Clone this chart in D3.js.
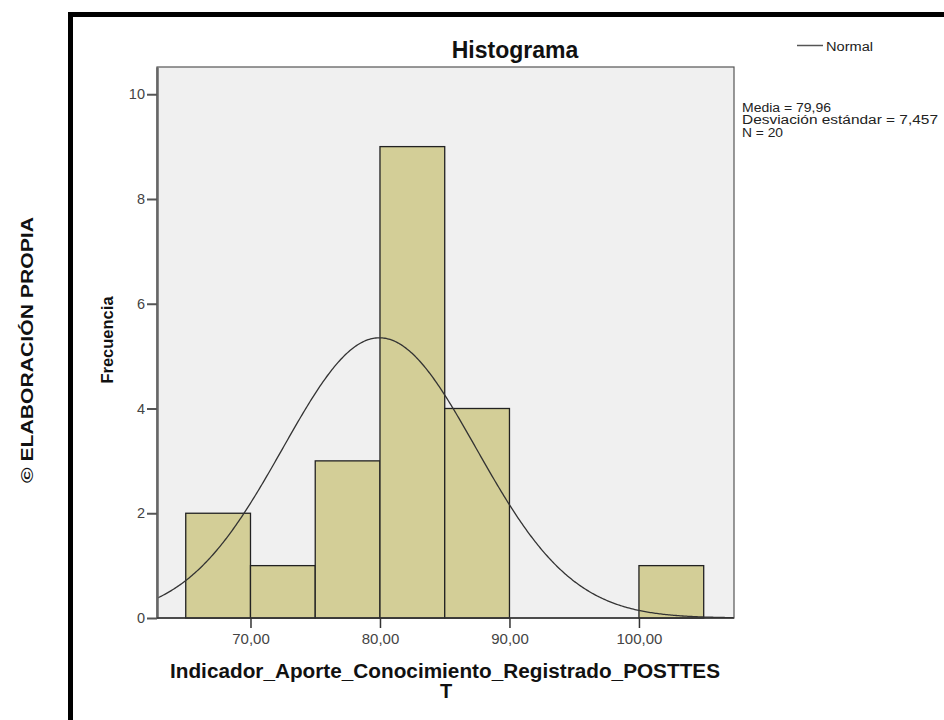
<!DOCTYPE html>
<html><head><meta charset="utf-8">
<script src="https://cdn.jsdelivr.net/npm/d3@7"></script>
<style>body{margin:0;background:#fff;}svg{display:block;}</style>
</head><body>
<script>
const binStarts = [65, 70, 75, 80, 85, 90, 95, 100];
const binWidth = 5;
const frequencies = [2, 1, 3, 9, 4, 0, 0, 1];
const xTicks = [70, 80, 90, 100];
const yTicks = [0, 2, 4, 6, 8, 10];
const statsLines = ["Media = 79,96", "Desviación estándar = 7,457", "N = 20"];
const mean = 79.96, sd = 7.457, nObs = 20;

const W = 944, H = 720;
const font = "Liberation Sans, Arial";
const svg = d3.select("body").append("svg").attr("width", W).attr("height", H);

// outer black frame
svg.append("rect").attr("x", 70.5).attr("y", 14.5).attr("width", 900).attr("height", 800)
  .attr("fill", "none").attr("stroke", "#000").attr("stroke-width", 5);

// side credit
svg.append("text").attr("transform", "translate(33,350) rotate(-90)")
  .attr("text-anchor", "middle").attr("font-family", font)
  .attr("font-weight", "bold").attr("font-size", 16.5).attr("fill", "#111")
  .attr("textLength", 266).attr("lengthAdjust", "spacingAndGlyphs")
  .text("© ELABORACIÓN PROPIA");

const L = 157, R = 734, T = 67, B = 618;
const x = d3.scaleLinear().domain([62.78, 107.34]).range([L, R]);
const y = d3.scaleLinear().domain([0, 10.52]).range([B, T]);

svg.append("rect").attr("x", L).attr("y", T).attr("width", R - L).attr("height", B - T)
  .attr("fill", "#f0f0f0").attr("stroke", "#555").attr("stroke-width", 1.2);

const clip = svg.append("clipPath").attr("id", "pc");
clip.append("rect").attr("x", L).attr("y", T).attr("width", R - L).attr("height", B - T);

const bars = binStarts.map((s, i) => ({s, f: frequencies[i]})).filter(d => d.f > 0);
svg.append("g").selectAll("rect").data(bars).join("rect")
  .attr("x", d => x(d.s)).attr("y", d => y(d.f))
  .attr("width", d => x(d.s + binWidth) - x(d.s)).attr("height", d => y(0) - y(d.f))
  .attr("fill", "#d3ce97").attr("stroke", "#222").attr("stroke-width", 1.3);

// normal curve
const pts = d3.range(62.78, 107.34, 0.1).map(v => [v, nObs * binWidth / (sd * Math.sqrt(2 * Math.PI)) * Math.exp(-0.5 * ((v - mean) / sd) ** 2)]);
svg.append("path").attr("clip-path", "url(#pc)").datum(pts)
  .attr("d", d3.line().x(d => x(d[0])).y(d => y(d[1])))
  .attr("fill", "none").attr("stroke", "#333").attr("stroke-width", 1.3);

// axes
const yAxis = svg.append("g").attr("transform", `translate(${L},0)`)
  .call(d3.axisLeft(y).tickValues(yTicks).tickSize(10).tickSizeOuter(0).tickPadding(2).tickFormat(d3.format("d")));
yAxis.select(".domain").attr("stroke", "#666").attr("stroke-width", 2.5);
yAxis.selectAll(".tick line").attr("stroke", "#555").attr("stroke-width", 2);
yAxis.selectAll("text").attr("font-family", font).attr("font-size", 14.5).attr("fill", "#444");

const xAxis = svg.append("g").attr("transform", `translate(0,${B})`)
  .call(d3.axisBottom(x).tickValues(xTicks).tickSize(10).tickSizeOuter(0).tickPadding(5).tickFormat(d => d.toFixed(2).replace(".", ",")));
xAxis.select(".domain").remove();
xAxis.selectAll(".tick line").attr("stroke", "#333").attr("stroke-width", 1.5);
xAxis.selectAll("text").attr("font-family", font).attr("font-size", 15).attr("fill", "#444");
svg.append("line").attr("x1", L).attr("x2", R).attr("y1", B).attr("y2", B).attr("stroke", "#333").attr("stroke-width", 1.5);

// title
svg.append("text").attr("x", 515).attr("y", 58).attr("text-anchor", "middle")
  .attr("font-family", font).attr("font-weight", "bold").attr("font-size", 23).attr("fill", "#111")
  .text("Histograma");

// legend
svg.append("line").attr("x1", 797).attr("x2", 823).attr("y1", 45.5).attr("y2", 45.5).attr("stroke", "#555").attr("stroke-width", 1.5);
svg.append("text").attr("x", 826).attr("y", 50.5).attr("font-family", font).attr("font-size", 12.5).attr("fill", "#222")
  .attr("textLength", 47).attr("lengthAdjust", "spacingAndGlyphs").text("Normal");

// stats
const statWidths = [89, 196, 41];
svg.append("g").selectAll("text").data(statsLines).join("text")
  .attr("x", 742).attr("y", (d, i) => 111.5 + i * 12.5)
  .attr("font-family", font).attr("font-size", 12.5).attr("fill", "#222")
  .attr("textLength", (d, i) => statWidths[i]).attr("lengthAdjust", "spacingAndGlyphs")
  .text(d => d);

// axis titles
svg.append("text").attr("transform", "translate(113,340) rotate(-90)").attr("text-anchor", "middle")
  .attr("font-family", font).attr("font-weight", "bold").attr("font-size", 16.5).attr("fill", "#111").text("Frecuencia");
svg.append("text").attr("x", 445).attr("y", 678).attr("text-anchor", "middle")
  .attr("font-family", font).attr("font-weight", "bold").attr("font-size", 20).attr("fill", "#111")
  .attr("textLength", 550).attr("lengthAdjust", "spacingAndGlyphs")
  .text("Indicador_Aporte_Conocimiento_Registrado_POSTTES");
svg.append("text").attr("x", 446).attr("y", 698).attr("text-anchor", "middle")
  .attr("font-family", font).attr("font-weight", "bold").attr("font-size", 20).attr("fill", "#111").text("T");
</script>
</body></html>
